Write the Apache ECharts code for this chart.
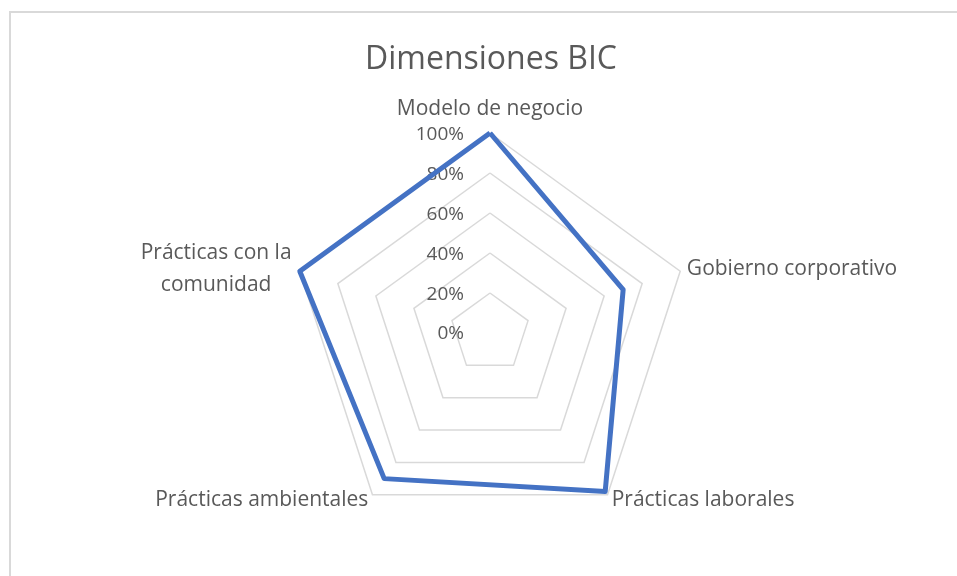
<!DOCTYPE html>
<html>
<head>
<meta charset="utf-8">
<script src="https://cdn.jsdelivr.net/npm/echarts@6/dist/echarts.min.js"></script>
<style>
  html, body { margin: 0; padding: 0; background: #fff; }
  #radar { width: 957px; height: 576px; }
</style>
</head>
<body>
<div id="radar"></div>
<script>
// datos (orden horario, empezando arriba)
var categorias = ["Modelo de negocio", "Gobierno corporativo", "Prácticas laborales", "Prácticas ambientales", "Prácticas con la comunidad"];
var valores = [100, 70, 98, 90, 100];
var ticks = [0, 20, 40, 60, 80, 100];

var fuente = "Open Sans";
var gris = "#595959";

// echarts coloca los indicadores en sentido antihorario
var orden = [0, 4, 3, 2, 1];
var indicadores = orden.map(function (i) {
  return { name: categorias[i], min: 0, max: 100 };
});
var datos = orden.map(function (i) { return valores[i]; });

var myChart = echarts.init(document.getElementById("radar"));
var option = {
  backgroundColor: "#fff",
  animation: false,
  title: {
    text: "Dimensiones BIC",
    left: 486,
    top: 39,
    textAlign: "center",
    textStyle: { fontFamily: fuente, fontSize: 32, fontWeight: "normal", color: gris }
  },
  graphic: [{
    type: "rect",
    shape: { x: 10, y: 12, width: 980, height: 600 },
    style: { fill: "none", stroke: "#d9d9d9", lineWidth: 2 },
    silent: true
  }],
  radar: {
    center: [490, 333],
    radius: 200,
    startAngle: 90,
    shape: "polygon",
    splitNumber: 5,
    nameGap: 7,
    indicator: indicadores,
    axisName: {
      color: gris,
      fontFamily: fuente,
      fontSize: 21,
      formatter: function (name) {
        if (name === "Prácticas con la comunidad") {
          return "{c|Prácticas con la}\n{c|comunidad}";
        }
        if (name === "Modelo de negocio") {
          return "{t|" + name + "}";
        }
        return name;
      },
      rich: {
        c: { width: 154, align: "center", fontFamily: fuente, fontSize: 21, color: gris, lineHeight: 32 },
        t: { fontFamily: fuente, fontSize: 21, color: gris, padding: [0, 0, 6, 0] }
      }
    },
    axisLine: { show: false },
    axisTick: { show: false },
    axisLabel: { show: false },
    splitArea: { show: false },
    splitLine: { lineStyle: { color: "#d9d9d9", width: 1.5 } }
  },
  // eje vertical solo para las etiquetas de porcentaje
  grid: { left: 490, top: 135, width: 1, height: 199 },
  xAxis: { type: "value", show: false },
  yAxis: {
    type: "value",
    min: ticks[0],
    max: ticks[ticks.length - 1],
    interval: 20,
    axisLine: { show: false },
    axisTick: { show: false },
    splitLine: { show: false },
    axisLabel: {
      margin: 26,
      color: gris,
      fontFamily: fuente,
      fontSize: 19,
      formatter: function (v) { return v + "%"; }
    }
  },
  series: [{
    type: "radar",
    symbol: "none",
    lineStyle: { color: "#4472C4", width: 5 },
    data: [{ value: datos, name: "Dimensiones BIC" }]
  }]
};
myChart.setOption(option);
</script>
</body>
</html>
